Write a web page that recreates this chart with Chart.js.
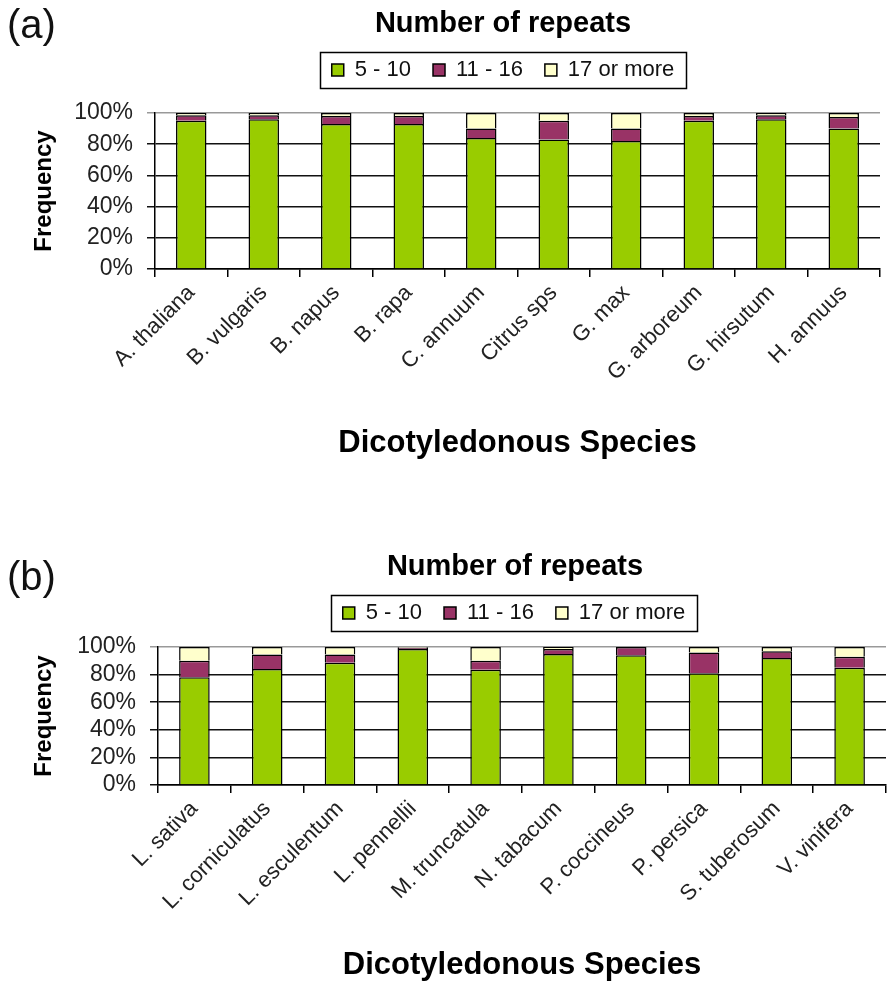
<!DOCTYPE html>
<html>
<head>
<meta charset="utf-8">
<script src="https://cdn.jsdelivr.net/npm/chart.js@4.4.0/dist/chart.umd.min.js"></script>
<style>
  html, body { margin: 0; padding: 0; background: #fff; width: 888px; height: 988px; overflow: hidden; }
  canvas.panel { position: absolute; left: 0; }
  .tag { position: absolute; left: 7px; font: 40px 'Liberation Sans', Arial, sans-serif; color: #111; }
</style>
</head>
<body>
<canvas id="chartA" class="panel" width="888" height="466" style="top:0"></canvas>
<canvas id="chartB" class="panel" width="888" height="448" style="top:540px"></canvas>
<div class="tag" style="top:2px">(a)</div>
<div class="tag" style="top:554px">(b)</div>
<script>
// Repeat-count classes shown in both panels
const seriesNames = ['5 - 10', '11 - 16', '17 or more'];
const seriesColors = ['#99CC00', '#993366', '#FFFFCC'];
const yTicks = [0, 20, 40, 60, 80, 100];

// Panel (a)
const speciesA = ['A. thaliana', 'B. vulgaris', 'B. napus', 'B. rapa', 'C. annuum',
                  'Citrus sps', 'G. max', 'G. arboreum', 'G. hirsutum', 'H. annuus'];
const a5to10  = [95, 96, 93, 93, 84, 83, 82, 95, 96, 90];
const a11to16 = [3.5, 2.5, 5, 5, 6, 12, 8, 3, 2.5, 7.5];
const a17plus = [1.5, 1.5, 2, 2, 10, 5, 10, 2, 1.5, 2.5];

// Panel (b)
const speciesB = ['L. sativa', 'L. corniculatus', 'L. esculentum', 'L. pennellii', 'M. truncatula',
                  'N. tabacum', 'P. coccineus', 'P. persica', 'S. tuberosum', 'V. vinifera'];
const b5to10  = [78, 84, 88.5, 98.5, 83.5, 95, 94, 81, 92, 85];
const b11to16 = [12, 10.5, 6, 1, 6.5, 3.5, 6, 15, 5, 8];
const b17plus = [10, 5.5, 5.5, 0.5, 10, 1.5, 0, 4, 3, 7];

const FAMILY = "'Liberation Sans', Arial, sans-serif";
const TITLE_SIZE = 29;

// Fixes the legend height, places title and legend, and frames the legend items
const legendFrame = {
  id: 'legendFrame',
  beforeLayout(chart, args, opts) {
    const lg = chart.legend;
    if (!lg || lg.__fixed) return;
    lg.__fixed = true;
    const fit = lg.fit;
    lg.fit = function () { fit.call(this); this.height = opts.height; };
  },
  afterLayout(chart, args, opts) {
    const lg = chart.legend;
    const pad = lg.options.labels.padding;
    const h = lg.height;
    lg.top = opts.itemTop - pad;
    lg.bottom = lg.top + h;
    lg.left += opts.legendShift;
    lg.right += opts.legendShift;
    const tb = chart.titleBlock;
    tb.left += opts.titleShift;
    tb.right += opts.titleShift;
  },
  afterDraw(chart, args, opts) {
    const boxes = chart.legend && chart.legend.legendHitBoxes;
    if (!boxes || !boxes.length) return;
    const left = Math.min(...boxes.map(b => b.left)) - opts.padX;
    const right = Math.max(...boxes.map(b => b.left + b.width)) + opts.padX;
    const top = boxes[0].top - opts.padY;
    const h = boxes[0].height + opts.padY * 2;
    const ctx = chart.ctx;
    ctx.save();
    ctx.strokeStyle = '#000';
    ctx.lineWidth = 1.5;
    ctx.strokeRect(Math.round(left) + 0.5, Math.round(top) + 0.5, Math.round(right - left), Math.round(h));
    ctx.restore();
  }
};

function buildChart(id, labels, series, frame) {
  const datasets = series.map((values, i) => ({
    label: seriesNames[i],
    data: values,
    backgroundColor: seriesColors[i],
    borderColor: '#000',
    borderWidth: 1.5,
    barPercentage: 0.42,
    categoryPercentage: 1
  }));
  const padLeft = 26;
  const lineH = TITLE_SIZE * 1.2;
  const titleTop = frame.titleCenter - lineH / 2;
  const titleHeight = titleTop + lineH + 4;
  return new Chart(document.getElementById(id), {
    type: 'bar',
    data: { labels, datasets },
    options: {
      responsive: false,
      animation: false,
      devicePixelRatio: 1,
      layout: { padding: { left: padLeft, right: frame.padRight, top: 0, bottom: 0 } },
      plugins: {
        title: {
          display: true, text: 'Number of repeats', color: '#000',
          font: { family: FAMILY, size: TITLE_SIZE, weight: 'bold' },
          padding: { top: titleTop, bottom: 4 }
        },
        legend: {
          display: true, position: 'top',
          labels: {
            font: { family: FAMILY, size: 22 }, color: '#111',
            boxWidth: 12, boxHeight: 12, padding: 22
          }
        },
        tooltip: { enabled: false },
        legendFrame: {
          height: frame.plotTop - titleHeight,
          itemTop: frame.legendCenter - 11,
          legendShift: frame.legendShift,
          titleShift: frame.titleShift,
          padX: 12, padY: 7
        }
      },
      scales: {
        x: {
          stacked: true,
          grid: { display: true, drawOnChartArea: false, drawTicks: true, tickLength: 8, offset: true, color: '#000', lineWidth: 1.5 },
          border: { display: true, color: '#000', width: 1.5 },
          ticks: { autoSkip: false, minRotation: 45, maxRotation: 45, color: '#222', padding: 3,
                   font: { family: FAMILY, size: 22 } },
          title: { display: true, text: 'Dicotyledonous Species', color: '#000',
                   font: { family: FAMILY, size: 31, weight: 'bold' }, padding: { top: 4, bottom: 4 } },
          afterFit(s) { s.height = frame.height - frame.plotBottom; }
        },
        y: {
          stacked: true, min: 0, max: 100,
          afterBuildTicks(s) { s.ticks = yTicks.map(v => ({ value: v })); },
          ticks: { autoSkip: false, callback: v => v + '%', color: '#222', padding: 14,
                   font: { family: FAMILY, size: 23 } },
          grid: { color: c => (c.tick && c.tick.value === 100 ? '#999' : '#111'), lineWidth: 1.5, tickLength: 8, drawTicks: true },
          border: { display: true, color: '#000', width: 1.5 },
          title: { display: true, text: 'Frequency', color: '#000',
                   font: { family: FAMILY, size: 24, weight: 'bold' }, padding: { top: 4, bottom: 4 } },
          afterFit(s) { s.width = frame.plotLeft - padLeft; }
        }
      }
    },
    plugins: [legendFrame]
  });
}

buildChart('chartA', speciesA, [a5to10, a11to16, a17plus],
  { titleCenter: 24, legendCenter: 70, plotTop: 113, plotBottom: 269, plotLeft: 155, padRight: 8, height: 466,
    titleShift: 50, legendShift: 50 });
buildChart('chartB', speciesB, [b5to10, b11to16, b17plus],
  { titleCenter: 27, legendCenter: 73, plotTop: 107, plotBottom: 245, plotLeft: 158, padRight: 2, height: 448,
    titleShift: 59, legendShift: 58 });
</script>
</body>
</html>
